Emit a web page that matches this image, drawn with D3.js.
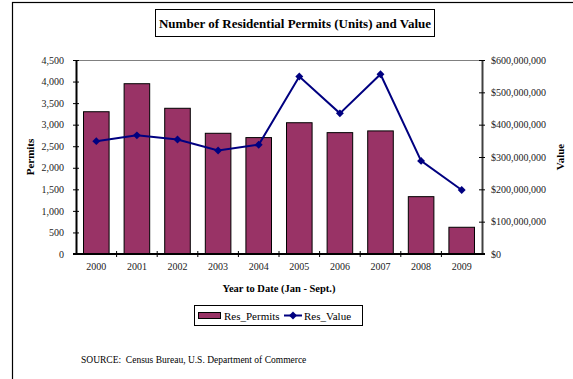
<!DOCTYPE html>
<html>
<head>
<meta charset="utf-8">
<script src="https://cdn.jsdelivr.net/npm/d3@7"></script>
<style>
  html, body { margin: 0; padding: 0; background: #fff; }
  svg { display: block; font-family: "Liberation Serif", "Times New Roman", serif; }
</style>
</head>
<body>
<svg id="chart" width="573" height="379"></svg>
<script>
// Residential permits (units) and their value, Jan - Sept. of each year
const years = ["2000", "2001", "2002", "2003", "2004", "2005", "2006", "2007", "2008", "2009"];
const resPermits = [3300, 3950, 3380, 2800, 2700, 3045, 2815, 2855, 1330, 620];
const resValue = [349000000, 367000000, 354000000, 320000000, 338000000, 549000000, 435000000, 556000000, 288000000, 198000000];
const permitTicks = [0, 500, 1000, 1500, 2000, 2500, 3000, 3500, 4000, 4500];
const valueTicks = [0, 100000000, 200000000, 300000000, 400000000, 500000000, 600000000];

const svg = d3.select("#chart");
const plot = { left: 76, right: 482, top: 60, bottom: 254 };

const barColor = "#993366";
const lineColor = "#000080";
const serif = "Liberation Serif";

// outer chart frame (extends past the page on the right and bottom)
svg.append("rect")
  .attr("x", 12.5).attr("y", 2.5).attr("width", 700).attr("height", 500)
  .attr("fill", "none").attr("stroke", "#000").attr("stroke-width", 1.2);

// title box
svg.append("rect")
  .attr("x", 155.5).attr("y", 9.5).attr("width", 279).attr("height", 27)
  .attr("fill", "#fff").attr("stroke", "#000").attr("stroke-width", 1);
svg.append("text")
  .attr("x", 295).attr("y", 27.5)
  .attr("text-anchor", "middle")
  .attr("font-family", serif)
  .attr("font-size", "13px").attr("font-weight", "bold")
  .text("Number of Residential Permits (Units) and Value");

const x = d3.scaleBand()
  .domain(years)
  .range([plot.left, plot.right])
  .paddingInner(0.37)
  .paddingOuter(0.185);

const yL = d3.scaleLinear().domain([0, 4500]).range([plot.bottom, plot.top]);
const yR = d3.scaleLinear().domain([0, 600000000]).range([plot.bottom, plot.top]);

// plot area top border
svg.append("line")
  .attr("x1", plot.left).attr("x2", plot.right)
  .attr("y1", plot.top + 0.5).attr("y2", plot.top + 0.5)
  .attr("stroke", "#808080").attr("stroke-width", 1);

// bars
svg.append("g").selectAll("rect")
  .data(years.map((y, i) => ({ year: y, v: resPermits[i] })))
  .join("rect")
  .attr("x", d => x(d.year))
  .attr("width", x.bandwidth())
  .attr("y", d => yL(d.v))
  .attr("height", d => yL(0) - yL(d.v))
  .attr("fill", barColor)
  .attr("stroke", "#000")
  .attr("stroke-width", 1);

// left axis
const leftAxis = d3.axisLeft(yL)
  .tickValues(permitTicks)
  .tickSizeInner(3)
  .tickSizeOuter(0)
  .tickPadding(9)
  .tickFormat(d3.format(","));
const gl = svg.append("g").attr("transform", `translate(${plot.left},0)`).call(leftAxis)
  .attr("font-family", serif).attr("font-size", 10);
gl.select(".domain").attr("stroke", "#000").attr("stroke-width", 2);
gl.selectAll(".tick line").attr("x2", 3).attr("x1", -3).attr("stroke", "#000");
gl.selectAll(".tick text").attr("fill", "#222");

// right axis
const rightAxis = d3.axisRight(yR)
  .tickValues(valueTicks)
  .tickSizeInner(3)
  .tickSizeOuter(0)
  .tickPadding(6)
  .tickFormat(d => "$" + d3.format(",")(d));
const gr = svg.append("g").attr("transform", `translate(${plot.right},0)`).call(rightAxis)
  .attr("font-family", serif).attr("font-size", 10);
gr.select(".domain").attr("stroke", "#404040").attr("stroke-width", 2);
gr.selectAll(".tick line").attr("x1", -3).attr("x2", 3).attr("stroke", "#000");
gr.selectAll(".tick text").attr("fill", "#222");

// bottom axis: labels under each bar, ticks at category boundaries
const bottomAxis = d3.axisBottom(x).tickSize(0).tickPadding(9);
const gb = svg.append("g").attr("transform", `translate(0,${plot.bottom})`).call(bottomAxis)
  .attr("font-family", serif).attr("font-size", 10);
gb.select(".domain").remove();
gb.selectAll(".tick text").attr("fill", "#222");
svg.append("line")
  .attr("x1", plot.left - 3).attr("x2", plot.right + 3)
  .attr("y1", plot.bottom).attr("y2", plot.bottom)
  .attr("stroke", "#000").attr("stroke-width", 2);
const step = x.step();
svg.append("g").selectAll("line")
  .data(years.slice(1))
  .join("line")
  .attr("x1", d => x(d) - step * x.paddingInner() / 2)
  .attr("x2", d => x(d) - step * x.paddingInner() / 2)
  .attr("y1", plot.bottom - 3).attr("y2", plot.bottom + 3)
  .attr("stroke", "#000").attr("stroke-width", 1);

// value line with diamond markers
const pts = years.map((y, i) => ({ year: y, v: resValue[i] }));
const line = d3.line()
  .x(d => x(d.year) + x.bandwidth() / 2)
  .y(d => yR(d.v));
svg.append("path")
  .datum(pts)
  .attr("d", line)
  .attr("fill", "none")
  .attr("stroke", lineColor)
  .attr("stroke-width", 2);
const diamond = d3.symbol().type(d3.symbolDiamond2).size(40);
svg.append("g").selectAll("path")
  .data(pts)
  .join("path")
  .attr("transform", d => `translate(${x(d.year) + x.bandwidth() / 2},${yR(d.v)})`)
  .attr("d", diamond)
  .attr("fill", lineColor);

// axis titles
svg.append("text")
  .attr("transform", "translate(34,157) rotate(-90)")
  .attr("text-anchor", "middle")
  .attr("font-family", serif)
  .attr("font-size", "11px").attr("font-weight", "bold")
  .text("Permits");
svg.append("text")
  .attr("transform", "translate(564,157) rotate(-90)")
  .attr("text-anchor", "middle")
  .attr("font-family", serif)
  .attr("font-size", "11px").attr("font-weight", "bold")
  .text("Value");
svg.append("text")
  .attr("x", 279).attr("y", 292)
  .attr("text-anchor", "middle")
  .attr("font-family", serif)
  .attr("font-size", "10.5px").attr("font-weight", "bold")
  .text("Year to Date (Jan - Sept.)");

// legend
const lg = svg.append("g").attr("font-family", serif).attr("font-size", "11px");
lg.append("rect")
  .attr("x", 194.5).attr("y", 305.5).attr("width", 168).attr("height", 20)
  .attr("fill", "#fff").attr("stroke", "#000").attr("stroke-width", 1);
lg.append("rect")
  .attr("x", 198.5).attr("y", 312.5).attr("width", 22).attr("height", 6)
  .attr("fill", barColor).attr("stroke", "#000").attr("stroke-width", 1);
lg.append("text")
  .attr("x", 224).attr("y", 319.5)
  .text("Res_Permits");
lg.append("line")
  .attr("x1", 284).attr("x2", 302).attr("y1", 315.5).attr("y2", 315.5)
  .attr("stroke", lineColor).attr("stroke-width", 2);
lg.append("path")
  .attr("transform", "translate(293,315.5)")
  .attr("d", diamond)
  .attr("fill", lineColor);
lg.append("text")
  .attr("x", 304).attr("y", 319.5)
  .text("Res_Value");

// source note
svg.append("text")
  .attr("x", 81).attr("y", 363)
  .attr("font-family", serif)
  .attr("font-size", "9.5px")
  .style("white-space", "pre")
  .text("SOURCE:  Census Bureau, U.S. Department of Commerce");
</script>
</body>
</html>
